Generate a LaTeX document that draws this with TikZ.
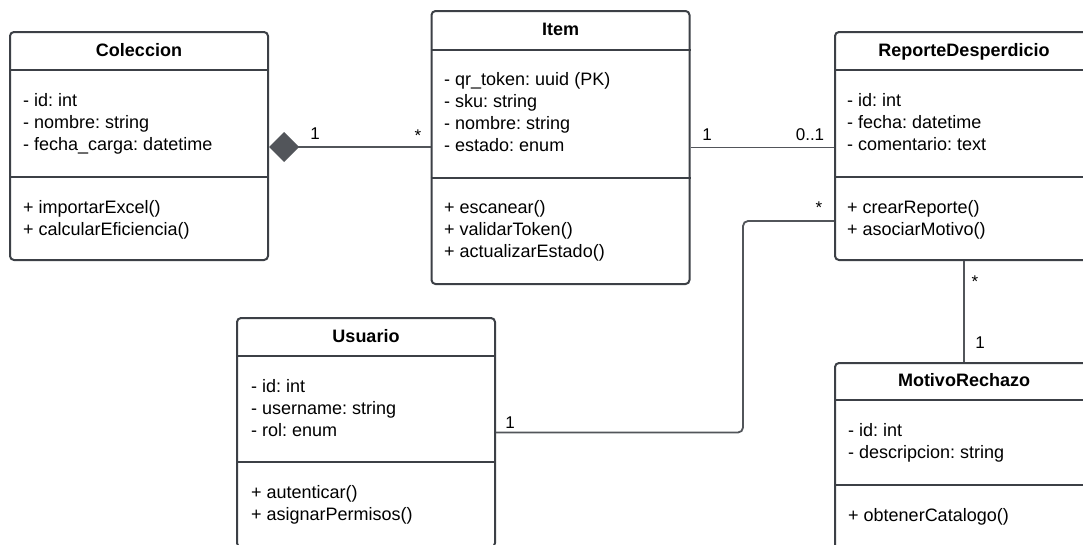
\documentclass[tikz,border=0pt]{standalone}
\usepackage{fontspec}
\setmainfont{Liberation Sans}
\usetikzlibrary{arrows.meta}
\frenchspacing
\definecolor{boxgray}{RGB}{60,64,70}
\definecolor{linegray}{RGB}{82,85,90}
\tikzstyle{classbox}=[draw=boxgray,line width=2pt,rounded corners=4pt,minimum width=258pt,inner sep=0pt]
\tikzstyle{classname}=[font=\bfseries\fontsize{18}{22}\selectfont,anchor=base,inner sep=0pt]
\tikzstyle{member}=[font=\fontsize{18}{22}\selectfont,anchor=base west,inner sep=0pt]
\tikzstyle{divider}=[draw=boxgray,line width=2pt]
\tikzstyle{assoc}=[draw=linegray,line width=1.8pt]
\tikzstyle{mult}=[font=\fontsize{17}{20}\selectfont,anchor=base,inner sep=0pt]

\begin{document}
\begin{tikzpicture}[x=1pt,y=-1pt]
    \useasboundingbox (0,0) rectangle (1083,544);
    \fill[white] (0,0) rectangle (1083,544);
    \clip (0,0) rectangle (1083,544);
    % class boxes
    \node[classbox,minimum height=228pt] (coleccion) at (139,146) {};
    \node[classbox,minimum height=273pt] (item) at (560.5,147.5) {};
    \node[classbox,minimum height=228pt] (reporte) at (964,146) {};
    \node[classbox,minimum height=229pt] (usuario) at (366,432.5) {};
    \node[classbox,minimum height=229pt] (motivo) at (964,477.5) {};
    % class names
    \node[classname] (coleccion-name) at (139,56) {Coleccion};
    \node[classname] (item-name) at (560.5,35) {Item};
    \node[classname] (reporte-name) at (964,56) {ReporteDesperdicio};
    \node[classname] (usuario-name) at (366,342.5) {Usuario};
    \node[classname] (motivo-name) at (964,386) {MotivoRechazo};
    % compartment lines
    \foreach \cls/\y in {coleccion/70, coleccion/177, item/50, item/178, reporte/70, reporte/177,
                         usuario/356, usuario/462, motivo/400, motivo/485}
        \draw[divider] (\cls.west |- 0,\y) -- (\cls.east |- 0,\y);
    % Coleccion
    \foreach \txt [count=\i] in {{- id: int},{- nombre: string},{- fecha\_carga: datetime}}
        \node[member] (coleccion-a\i) at (23,84+22*\i) {\txt};
    \foreach \txt [count=\i] in {{+ importarExcel()},{+ calcularEficiencia()}}
        \node[member] (coleccion-m\i) at (23,191+22*\i) {\txt};
    % Item
    \foreach \txt [count=\i] in {{- qr\_token: uuid (PK)},{- sku: string},{- nombre: string},{- estado: enum}}
        \node[member] (item-a\i) at (444,63+22*\i) {\txt};
    \foreach \txt [count=\i] in {{+ escanear()},{+ validarToken()},{+ actualizarEstado()}}
        \node[member] (item-m\i) at (444,191+22*\i) {\txt};
    % ReporteDesperdicio
    \foreach \txt [count=\i] in {{- id: int},{- fecha: datetime},{- comentario: text}}
        \node[member] (reporte-a\i) at (847,84+22*\i) {\txt};
    \foreach \txt [count=\i] in {{+ crearReporte()},{+ asociarMotivo()}}
        \node[member] (reporte-m\i) at (847,191+22*\i) {\txt};
    % Usuario
    \foreach \txt [count=\i] in {{- id: int},{- username: string},{- rol: enum}}
        \node[member] (usuario-a\i) at (251,370+22*\i) {\txt};
    \foreach \txt [count=\i] in {{+ autenticar()},{+ asignarPermisos()}}
        \node[member] (usuario-m\i) at (251,476+22*\i) {\txt};
    % MotivoRechazo
    \foreach \txt [count=\i] in {{- id: int},{- descripcion: string}}
        \node[member] (motivo-a\i) at (848,414+22*\i) {\txt};
    \node[member] (motivo-m1) at (848,521) {+ obtenerCatalogo()};
    % associations
    \draw[assoc,{Diamond[length=30pt,width=30pt,fill=linegray]}-] (coleccion.east |- 0,147) -- (item.west |- 0,147);
    \draw[assoc] (item.east) -- (item.east -| reporte.west);
    \coordinate (bend) at (743,221);
    \draw[assoc,rounded corners=5pt] (usuario.east) -| (bend) -- (bend -| reporte.west);
    \draw[assoc] (reporte.south) -- (motivo.north);
    % multiplicities
    \node[mult] (m-coleccion) at (315,139) {1};
    \node[mult] (m-item-l) at (418,141) {*};
    \node[mult] (m-item-r) at (707,140) {1};
    \node[mult] (m-reporte-l) at (810,140) {0..1};
    \node[mult] (m-reporte-u) at (819,213) {*};
    \node[mult] (m-usuario) at (510,428) {1};
    \node[mult] (m-reporte-b) at (975,287) {*};
    \node[mult] (m-motivo) at (980,348) {1};
\end{tikzpicture}
\end{document}
